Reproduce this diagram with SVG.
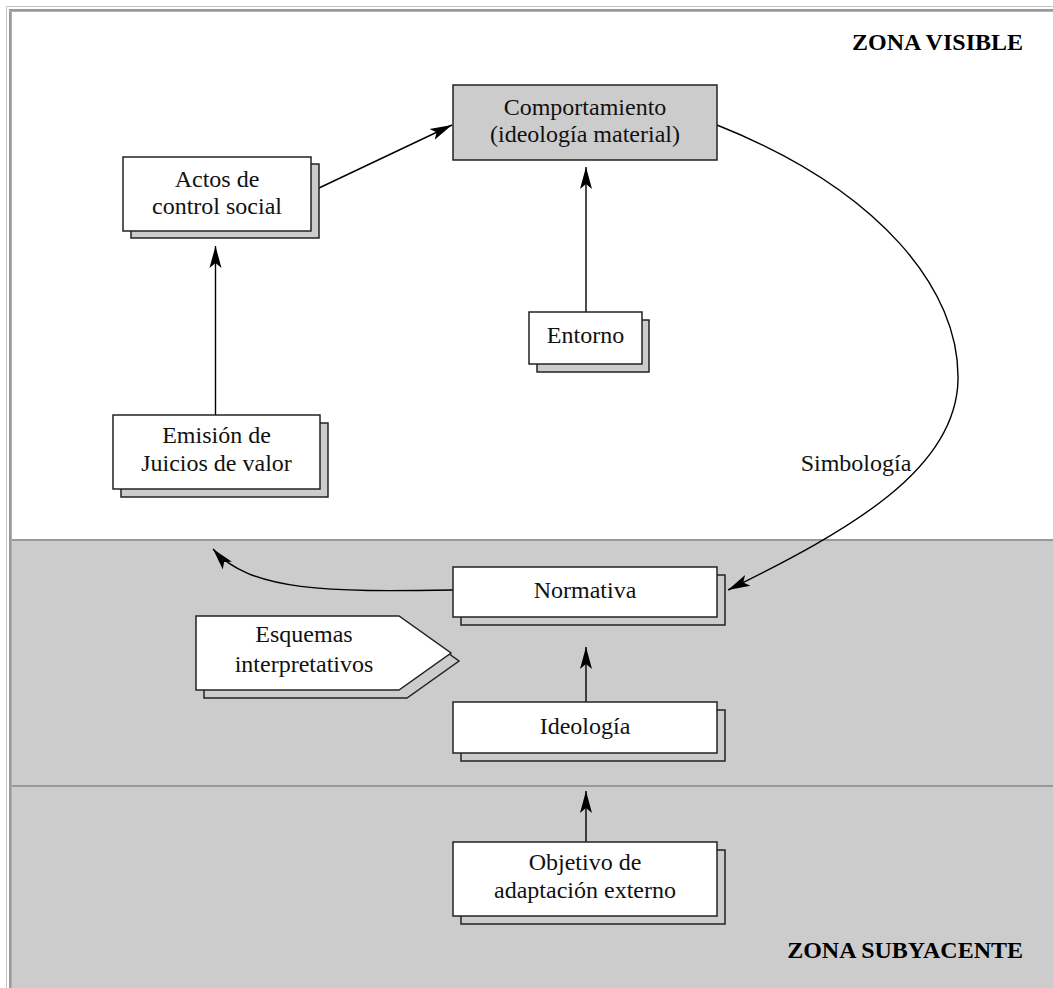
<svg xmlns="http://www.w3.org/2000/svg" width="1053" height="988" viewBox="0 0 1053 988">
<style>
text{font-family:"Liberation Serif","Times New Roman",serif;font-size:24px;fill:#111;text-anchor:middle}
.zone{font-weight:bold;text-anchor:end;fill:#000}
.box{fill:#fff;stroke:#222;stroke-width:1.5}
.shadow{fill:#cccccc;stroke:#222;stroke-width:1.5}
.conn{fill:none;stroke:#000;stroke-width:1.4;marker-end:url(#arr)}
</style>
<defs>
<marker id="arr" markerUnits="userSpaceOnUse" markerWidth="24" markerHeight="14" refX="22" refY="7" orient="auto">
<path d="M0,1 L22,7 L0,13 L5,7 z" fill="#000"/>
</marker>
</defs>
<g id="background">
<rect x="0" y="0" width="1053" height="988" fill="#fff"/>
<rect x="12" y="12" width="1041" height="528" fill="#fff"/>
<rect x="12" y="540" width="1041" height="448" fill="#cccccc"/>
<line x1="6.5" y1="6.5" x2="1053" y2="6.5" stroke="#c4c4c4" stroke-width="1"/>
<line x1="6.5" y1="6.5" x2="6.5" y2="988" stroke="#c4c4c4" stroke-width="1"/>
<line x1="9" y1="10" x2="1053" y2="10" stroke="#999" stroke-width="2"/>
<line x1="10" y1="9" x2="10" y2="988" stroke="#999" stroke-width="2"/>
<line x1="9" y1="11.5" x2="1053" y2="11.5" stroke="#b0b0b0" stroke-width="1"/>
<line x1="11.5" y1="11" x2="11.5" y2="988" stroke="#b0b0b0" stroke-width="1"/>
<line x1="12" y1="540" x2="1053" y2="540" stroke="#999" stroke-width="2"/>
<line x1="12" y1="786" x2="1053" y2="786" stroke="#999" stroke-width="2"/>
<text class="zone" x="1023" y="50">ZONA VISIBLE</text>
<text class="zone" x="1023" y="958">ZONA SUBYACENTE</text>
</g>
<g id="connectors">
<path class="conn" d="M319,188 L452,125"/>
<path class="conn" d="M215.5,415 L215.5,246"/>
<path class="conn" d="M586,312 L586,167"/>
<path class="conn" d="M717,125 C880,190 960,290 958,380 C956,470 850,530 728,590"/>
<path class="conn" d="M453,590 C330,592 250,592 213,549"/>
<path class="conn" d="M586,702 L586,647"/>
<path class="conn" d="M586,842 L586,791"/>
<text x="856" y="471">Simbología</text>
</g>
<g id="comportamiento">
<rect x="453" y="85" width="264" height="75" fill="#cccccc" stroke="#222" stroke-width="1.5"/>
<text x="585" y="115">Comportamiento</text>
<text x="585" y="142">(ideología material)</text>
</g>
<g id="actos">
<rect class="shadow" x="131" y="164" width="188" height="74"/>
<rect class="box" x="123" y="157" width="188" height="74"/>
<text x="217" y="187">Actos de</text>
<text x="217" y="214">control social</text>
</g>
<g id="entorno">
<rect class="shadow" x="537" y="320" width="112" height="52"/>
<rect class="box" x="529" y="312" width="113" height="52"/>
<text x="585.5" y="343">Entorno</text>
</g>
<g id="emision">
<rect class="shadow" x="121" y="423" width="207" height="74"/>
<rect class="box" x="113" y="415" width="207" height="74"/>
<text x="216.5" y="443">Emisión de</text>
<text x="216.5" y="471">Juicios de valor</text>
</g>
<g id="normativa">
<rect class="shadow" x="461" y="575" width="264" height="50"/>
<rect class="box" x="453" y="567" width="264" height="50"/>
<text x="585" y="598">Normativa</text>
</g>
<g id="esquemas">
<path class="shadow" d="M204,624 L407,624 L459,661 L407,698 L204,698 z"/>
<path class="box" d="M196,616 L399,616 L451,653 L399,690 L196,690 z"/>
<text x="304" y="642">Esquemas</text>
<text x="304" y="672">interpretativos</text>
</g>
<g id="ideologia">
<rect class="shadow" x="461" y="710" width="264" height="51"/>
<rect class="box" x="453" y="702" width="264" height="51"/>
<text x="585" y="734">Ideología</text>
</g>
<g id="objetivo">
<rect class="shadow" x="461" y="850" width="264" height="74"/>
<rect class="box" x="453" y="842" width="264" height="74"/>
<text x="585" y="870">Objetivo de</text>
<text x="585" y="898">adaptación externo</text>
</g>
</svg>
